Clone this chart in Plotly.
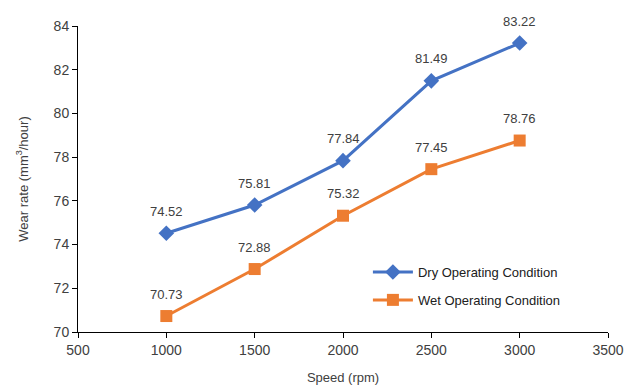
import plotly.graph_objects as go

speed = [1000, 1500, 2000, 2500, 3000]
dry_wear = [74.52, 75.81, 77.84, 81.49, 83.22]
wet_wear = [70.73, 72.88, 75.32, 77.45, 78.76]

x_ticks = [500, 1000, 1500, 2000, 2500, 3000, 3500]
y_ticks = [70, 72, 74, 76, 78, 80, 82, 84]

FONT = "Liberation Sans"
TEXT = "#404040"

fig = go.Figure()
fig.add_trace(go.Scatter(
    x=speed, y=dry_wear, name="Dry Operating Condition", legendgroup="dry",
    mode="lines+markers",
    line=dict(color="#4472C4", width=3),
    marker=dict(symbol="diamond", size=12, color="#4472C4"),
))
fig.add_trace(go.Scatter(
    x=speed, y=wet_wear, name="Wet Operating Condition", legendgroup="wet",
    mode="lines+markers",
    line=dict(color="#ED7D31", width=3),
    marker=dict(symbol="square", size=12, color="#ED7D31"),
))

# value labels above each point
for series in (dry_wear, wet_wear):
    for xv, yv in zip(speed, series):
        fig.add_annotation(
            x=xv, y=yv, text=f"{yv:.2f}", showarrow=False,
            yshift=22, yanchor="middle",
            font=dict(family=FONT, size=13, color=TEXT),
        )

axis_common = dict(
    showgrid=False, zeroline=False, showline=True, linecolor="black",
    linewidth=1, ticks="outside", ticklen=5, tickcolor="black",
    tickfont=dict(family=FONT, size=14, color=TEXT), automargin=False,
)

fig.update_layout(
    width=626, height=386,
    margin=dict(l=78, r=18, t=26, b=54),
    plot_bgcolor="white", paper_bgcolor="white",
    font=dict(family=FONT, color=TEXT),
    xaxis=dict(range=[500, 3500], tickvals=x_ticks,
               title=dict(text="Speed (rpm)", font=dict(size=13, color=TEXT), standoff=16),
               **axis_common),
    yaxis=dict(range=[70, 84], tickvals=y_ticks,
               title=dict(text="Wear rate (mm<sup>3</sup>/hour)", font=dict(size=13, color=TEXT), standoff=22),
               **axis_common),
    legend=dict(x=0.547, y=0.245, xanchor="left", yanchor="top",
                font=dict(family=FONT, size=13, color="#202020"),
                bgcolor="rgba(0,0,0,0)", tracegroupgap=8, itemwidth=40),
    showlegend=True,
)

fig.write_html("out.html")
